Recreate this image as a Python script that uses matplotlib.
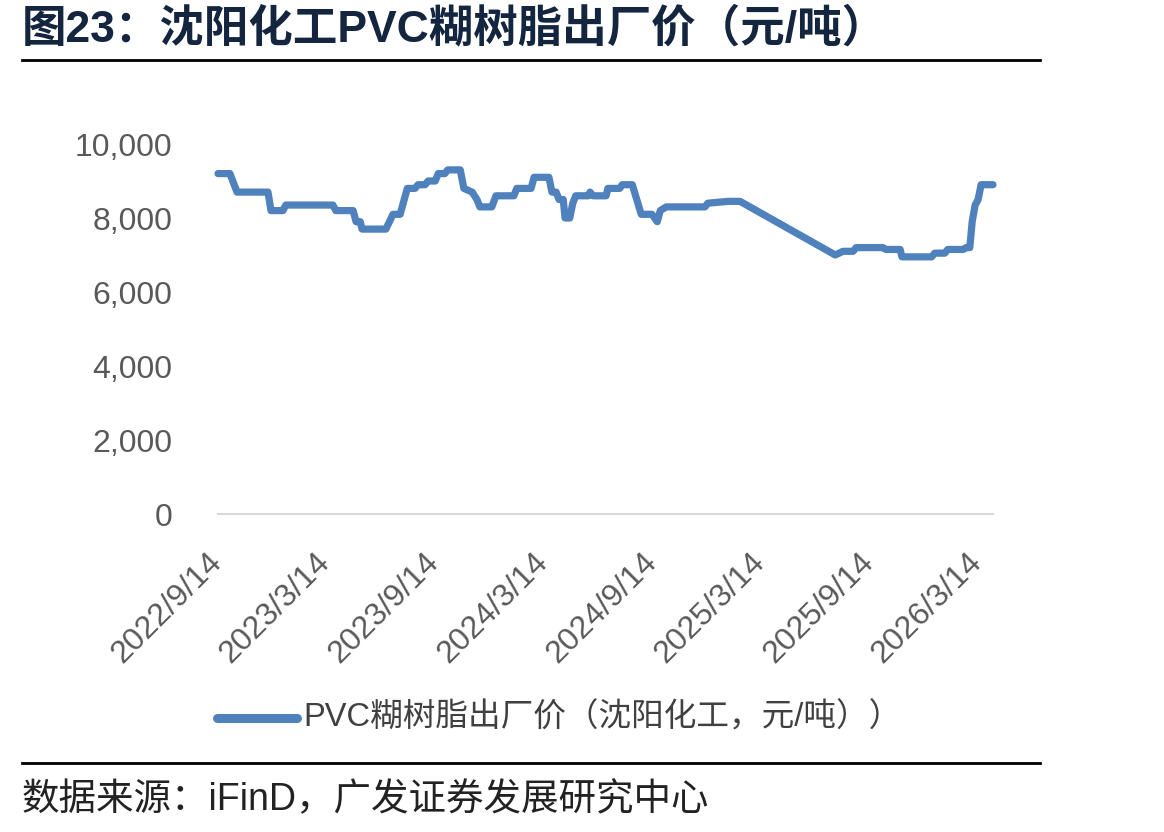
import matplotlib
matplotlib.use("Agg")
import numpy as np
import pandas as pd
import matplotlib.pyplot as plt
import matplotlib.transforms as mtransforms
from matplotlib.lines import Line2D

# data (step-like price series, yuan/ton)
dates = ["2022-09-14","2022-10-04","2022-10-16","2022-12-07","2022-12-12","2023-01-01","2023-01-06",
         "2023-03-26","2023-03-31","2023-04-29","2023-05-04","2023-05-11","2023-05-14","2023-06-23",
         "2023-07-05","2023-07-17","2023-07-29","2023-08-11","2023-08-16","2023-08-28","2023-09-02",
         "2023-09-14","2023-09-19","2023-09-30","2023-10-05","2023-10-26","2023-11-01","2023-11-15",
         "2023-11-23","2023-11-28","2023-12-18","2023-12-25","2024-01-24","2024-01-29","2024-02-22",
         "2024-02-27","2024-03-23","2024-03-28","2024-04-04","2024-04-09","2024-04-16","2024-04-19",
         "2024-04-27","2024-05-02","2024-05-07","2024-05-28","2024-05-31","2024-06-05","2024-06-27",
         "2024-06-30","2024-07-20","2024-07-24","2024-08-10","2024-08-25","2024-09-12","2024-09-21",
         "2024-09-26","2024-10-06","2024-12-10","2024-12-15","2025-01-18","2025-02-07","2025-07-17",
         "2025-07-30","2025-08-16","2025-08-21","2025-10-05","2025-10-10","2025-11-03","2025-11-06",
         "2025-12-26","2025-12-31","2026-01-17","2026-01-22","2026-02-17","2026-02-22","2026-02-28",
         "2026-03-04","2026-03-09","2026-03-14","2026-03-19","2026-04-08"]
prices = [9200,9200,8700,8700,8200,8200,8350,
          8350,8200,8200,7900,7900,7700,7700,
          8100,8100,8800,8800,8900,8900,9000,
          9000,9200,9200,9300,9300,8800,8700,
          8500,8300,8300,8600,8600,8800,8800,
          9100,9100,8700,8700,8500,8500,8000,
          8000,8400,8600,8600,8700,8600,8600,
          8800,8800,8900,8900,8100,8100,7900,
          8200,8300,8300,8400,8450,8450,7000,
          7100,7100,7200,7200,7150,7150,6950,
          6950,7050,7050,7150,7150,7200,7200,
          7900,8350,8500,8900,8900]
tick_dates = ["2022-09-14","2023-03-14","2023-09-14","2024-03-14",
              "2024-09-14","2025-03-14","2025-09-14","2026-03-14"]
tick_labels = ["2022/9/14","2023/3/14","2023/9/14","2024/3/14",
               "2024/9/14","2025/3/14","2025/9/14","2026/3/14"]
yticks = [0, 2000, 4000, 6000, 8000, 10000]

title = "图23：沈阳化工PVC糊树脂出厂价（元/吨）"
series_name = "PVC糊树脂出厂价（沈阳化工，元/吨））"
source = "数据来源：iFinD，广发证券发展研究中心"

fam = ["Liberation Sans", "Noto Sans CJK SC"]
plt.rcParams["font.family"] = fam

x = pd.to_datetime(dates)
fig = plt.figure(figsize=(11.64, 8.32), dpi=100)
ax = fig.add_axes([218/1164, 1-514/832, (993-218)/1164, (514-144)/832])

ax.plot(x, prices, color="#4F81BD", lw=5.2, solid_joinstyle="round", solid_capstyle="round", clip_on=False)

ax.set_xlim(pd.Timestamp("2022-09-14"), pd.Timestamp("2026-04-08"))
ax.set_ylim(0, 10000)
ax.set_yticks(yticks)
ax.set_yticklabels([f"{v:,}" for v in yticks])
ax.set_xticks(pd.to_datetime(tick_dates))
ax.set_xticklabels([])

# rotated date labels, nudged a little right of each tick like the original
lab_tr = ax.get_xaxis_transform() + mtransforms.ScaledTranslation(0.1, -0.33, fig.dpi_scale_trans)
for d, lab in zip(pd.to_datetime(tick_dates), tick_labels):
    ax.text(d, 0, lab, transform=lab_tr, rotation=45, ha="right", va="top",
            fontsize=23, color="#595959", clip_on=False)

for s in ["top", "right", "left"]:
    ax.spines[s].set_visible(False)
ax.spines["bottom"].set_color("#D9D9D9")
ax.spines["bottom"].set_linewidth(1.5)
ax.tick_params(axis="y", length=0, pad=33, labelsize=23, labelcolor="#595959")
ax.tick_params(axis="x", length=0)

# title and rules
fig.text(22/1164, 1-29/832, title, fontsize=32, fontweight="bold", color="#14263F",
         ha="left", va="center")
fig.add_artist(Line2D([22/1164, 1040/1164], [1-60/832, 1-60/832], color="black", lw=2))
fig.add_artist(Line2D([22/1164, 1040/1164], [1-763/832, 1-763/832], color="black", lw=2))
fig.text(22/1164, 1-800/832, source, fontsize=27, color="#222222", ha="left", va="center")

# legend
fig.add_artist(Line2D([217/1164, 297/1164], [1-718/832, 1-718/832], color="#4F81BD", lw=6.5,
                      solid_capstyle="round"))
fig.text(303/1164, 1-718/832, series_name, fontsize=23.5, color="#404040", ha="left", va="center")

fig.savefig("out.png", dpi=100)
